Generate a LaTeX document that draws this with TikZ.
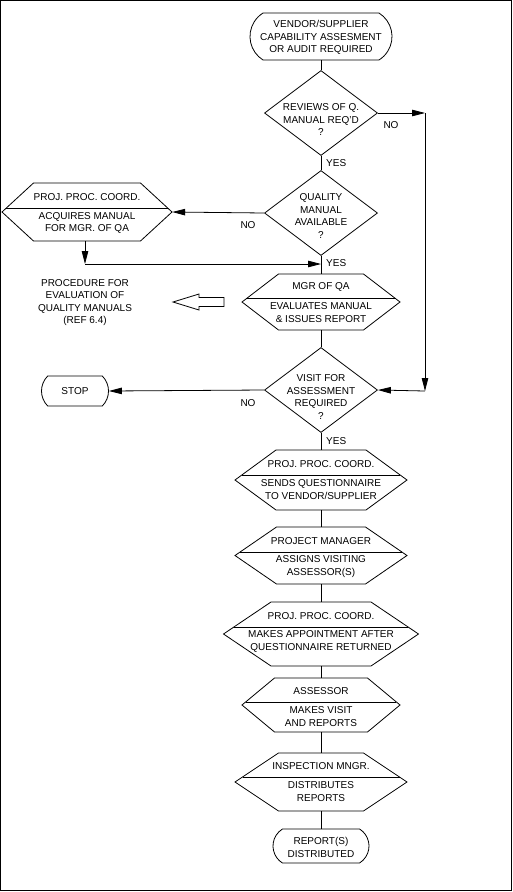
\documentclass[tikz,border=0pt]{standalone}
\usepackage{fontspec}
\setmainfont{Liberation Sans}
\usetikzlibrary{calc,shapes.geometric,shapes.misc,arrows.meta}

\tikzset{
  chartline/.style={draw=black, line width=0.8pt},
  flowarrow/.style={chartline, -{Triangle[length=13pt,width=6.5pt]}},
  chartfont/.style={font=\fontsize{10}{12.5}\selectfont, align=center, inner sep=0pt},
  decision/.style={diamond, chartline, minimum width=113pt, minimum height=85pt, inner sep=0pt},
  terminal/.style={rounded rectangle, chartline, inner sep=0pt, rounded rectangle arc length=116},
  hexspace/.style={rectangle, draw=none, inner sep=0pt},
}

% name, x, y, half width, point depth, half height, divider y, header, body
\newcommand{\taskbox}[9]{%
  \node[hexspace, minimum width={2*#4}, minimum height={2*#6}] (#1) at (#2,#3) {};
  \draw[chartline] ({#2-#4},#3) -- ({#2-#4+#5},{#3-#6}) -- ({#2+#4-#5},{#3-#6})
    -- ({#2+#4},#3) -- ({#2+#4-#5},{#3+#6}) -- ({#2-#4+#5},{#3+#6}) -- cycle;
  \draw[chartline] ({#2-#4+#5*(#3-#7)/#6},#7) -- ({#2+#4-#5*(#3-#7)/#6},#7);
  \node[chartfont] (#1-head) at (#2,{#7-11}) {#8};
  \node[chartfont] (#1-body) at (#2,{#7+14.5}) {#9};
}

\begin{document}
\begin{tikzpicture}[x=1pt,y=-1pt]
    \useasboundingbox (0,0) rectangle (513,892);
    \draw[chartline] (0.5,0.5) rectangle (511,890);

    \node[terminal, minimum width=142pt, minimum height=47pt] (start) at (321,36.5) {};
    \node[chartfont] (start-text) at (321,37.5) {VENDOR/SUPPLIER\\CAPABILITY ASSESMENT\\OR AUDIT REQUIRED};

    \node[decision] (review) at (321,113) {};
    \node[chartfont] (review-text) at (321,120) {REVIEWS OF Q.\\MANUAL REQ'D\\?};

    \node[decision] (avail) at (321,213) {};
    \node[chartfont] (avail-text) at (321,216) {QUALITY\\MANUAL\\AVAILABLE\\?};

    \taskbox{acquire}{87}{212}{85}{31.5}{29}{208.5}{PROJ. PROC. COORD.}{ACQUIRES MANUAL\\FOR MGR. OF QA}
    \taskbox{evaluate}{321}{302}{79}{36.5}{28}{298}{MGR OF QA}{EVALUATES MANUAL\\\& ISSUES REPORT}

    \node[chartfont] (procedure) at (85,302.5) {PROCEDURE FOR\\EVALUATION OF\\QUALITY MANUALS\\(REF 6.4)};
    \draw[chartline] (173,302) -- (199,294) -- (199,297.5) -- (224,297.5) -- (224,306.5)
        -- (199,306.5) -- (199,310) -- cycle;

    \node[decision] (visit) at (321,390) {};
    \node[chartfont] (visit-text) at (321,397) {VISIT FOR\\ASSESSMENT\\REQUIRED\\?};

    \node[terminal, minimum width=67pt, minimum height=30pt, rounded rectangle arc length=90] (stop) at (75,391) {};
    \node[chartfont] (stop-text) at (75,391) {STOP};

    \taskbox{send}{321}{480}{86}{41}{30}{475}{PROJ. PROC. COORD.}{SENDS QUESTIONNAIRE\\TO VENDOR/SUPPLIER}
    \taskbox{assign}{321}{555.5}{86}{41.5}{28.5}{552}{PROJECT MANAGER}{ASSIGNS VISITING\\ASSESSOR(S)}
    \taskbox{appoint}{321}{634}{97.5}{47.5}{32}{627}{PROJ. PROC. COORD.}{MAKES APPOINTMENT AFTER\\QUESTIONNAIRE RETURNED}
    \taskbox{inspect}{321}{705}{79}{32.5}{27}{702}{ASSESSOR}{MAKES VISIT\\AND REPORTS}
    \taskbox{distribute}{321}{782}{86}{43.5}{29}{777}{INSPECTION MNGR.}{DISTRIBUTES\\REPORTS}

    \node[terminal, minimum width=96pt, minimum height=34pt] (finish) at (321,846) {};
    \node[chartfont] (finish-text) at (321,847.5) {REPORT(S)\\DISTRIBUTED};

    \coordinate (noreview) at (425,113);
    \coordinate (novisit) at (425,391);
    \coordinate (manualdown) at (85,264);
    \coordinate (manualin) at (321,264);

    \draw[chartline] (start) -- (review);
    \draw[chartline] (review) -- (avail);
    \draw[chartline] (avail) -- (evaluate);
    \draw[chartline] (evaluate) -- (visit);
    \draw[chartline] (visit) -- (send);
    \draw[chartline] (send) -- (assign);
    \draw[chartline] (assign) -- (appoint);
    \draw[chartline] (appoint) -- (inspect);
    \draw[chartline] (inspect) -- (distribute);
    \draw[chartline] (distribute) -- (finish);

    \draw[flowarrow] (review.east) -- (noreview);
    \draw[flowarrow] (noreview) -- (novisit);
    \draw[flowarrow] (novisit) -- (visit.east);
    \draw[flowarrow] (avail.west) -- (acquire.east);
    \draw[flowarrow] (manualdown |- acquire.south) -- (manualdown);
    \draw[flowarrow] (manualdown) -- (manualin);
    \draw[flowarrow] (visit.west) -- (stop.east);

    \node[chartfont, anchor=west] (yes-review) at (326,163) {YES};
    \node[chartfont, anchor=west] (yes-avail) at (326,263) {YES};
    \node[chartfont, anchor=west] (yes-visit) at (326,441) {YES};
    \node[chartfont] (no-review) at (391,125) {NO};
    \node[chartfont] (no-avail) at (248,225) {NO};
    \node[chartfont] (no-visit) at (248,403) {NO};
\end{tikzpicture}
\end{document}
